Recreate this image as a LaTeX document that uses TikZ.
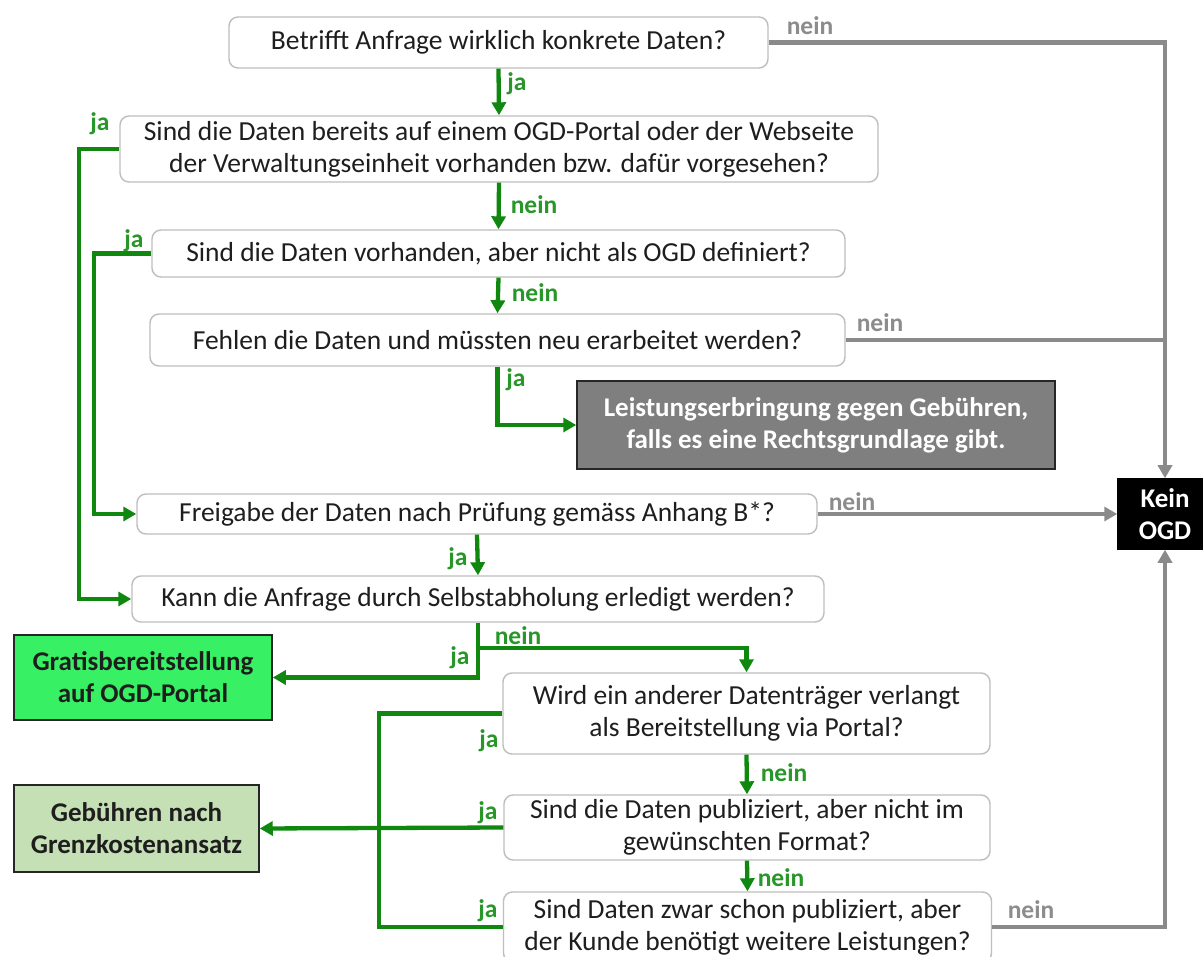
\documentclass[tikz,border=0pt]{standalone}
\usepackage{fontspec}
\setmainfont{Carlito}
\usetikzlibrary{arrows.meta}
\definecolor{qborder}{RGB}{190,190,190}
\definecolor{textc}{RGB}{30,30,30}
\definecolor{gline}{RGB}{16,136,16}
\definecolor{glabel}{RGB}{40,150,40}
\definecolor{grayline}{RGB}{138,138,138}
\definecolor{graylabel}{RGB}{140,140,140}
\definecolor{gratis}{RGB}{55,240,100}
\definecolor{gebuehr}{RGB}{197,224,180}
\definecolor{leist}{RGB}{127,127,127}
\tikzset{
  q/.style={draw=qborder, line width=1.4pt, rounded corners=9pt, fill=white, align=center,
    inner sep=0pt, text=textc, font=\fontsize{27.5}{32}\selectfont},
  res/.style={draw=black!85, line width=1.5pt, align=center, inner sep=0pt,
    font=\bfseries\fontsize{27}{32}\selectfont},
  gpath/.style={draw=gline, line width=4.3pt},
  garrow/.style={gpath, -{Triangle[length=13pt,width=14pt]}},
  ypath/.style={draw=grayline, line width=4.3pt},
  yarrow/.style={ypath, -{Triangle[length=13pt,width=14pt]}},
  glbl/.style={text=glabel, font=\bfseries\fontsize{25.5}{28}\selectfont, inner sep=0pt},
  ylbl/.style={text=graylabel, font=\bfseries\fontsize{25.5}{28}\selectfont, inner sep=0pt}
}
\begin{document}
\begin{tikzpicture}[x=1pt,y=-1pt]
\useasboundingbox (0,0) rectangle (1203,957);
\fill[white] (0,0) rectangle (1203,957);

% question boxes
\node[q, minimum width=539pt, minimum height=51pt] (b1) at (498.5,42.5) {Betrifft Anfrage wirklich konkrete Daten?};
\node[q, minimum width=758pt, minimum height=66pt] (b2) at (499,149) {Sind die Daten bereits auf einem OGD-Portal oder der Webseite\\der Verwaltungseinheit vorhanden bzw. dafür vorgesehen?};
\node[q, minimum width=693pt, minimum height=47pt] (b3) at (498.5,253.5) {Sind die Daten vorhanden, aber nicht als OGD definiert?};
\node[q, minimum width=695pt, minimum height=52pt] (b4) at (497.5,340) {Fehlen die Daten und müssten neu erarbeitet werden?};
\node[q, minimum width=680pt, minimum height=40pt] (b5) at (477,514) {Freigabe der Daten nach Prüfung gemäss Anhang B*?};
\node[q, minimum width=692pt, minimum height=46pt] (b6) at (478,599) {Kann die Anfrage durch Selbstabholung erledigt werden?};
\node[q, minimum width=487pt, minimum height=81pt] (b7) at (746.5,713.5) {Wird ein anderer Datenträger verlangt\\als Bereitstellung via Portal?};
\node[q, minimum width=486pt, minimum height=65pt] (b8) at (747,827.5) {Sind die Daten publiziert, aber nicht im\\gewünschten Format?};
\node[q, minimum width=488pt, minimum height=70pt] (b9) at (747.5,927) {Sind Daten zwar schon publiziert, aber\\der Kunde benötigt weitere Leistungen?};

% result boxes
\node[res, fill=leist, text=white, minimum width=478pt, minimum height=88pt] (lg) at (816,425) {Leistungserbringung gegen Gebühren,\\falls es eine Rechtsgrundlage gibt.};
\node[res, fill=gratis, text=textc, minimum width=258pt, minimum height=85pt] (gr) at (143,677.5) {Gratisbereitstellung\\auf OGD-Portal};
\node[res, fill=gebuehr, text=textc, minimum width=245pt, minimum height=87pt] (gk) at (136.5,828.5) {Gebühren nach\\Grenzkostenansatz};
\node[res, draw=black, fill=black, text=white, minimum width=94pt, minimum height=70pt] (ko) at (1165,514) {Kein\\OGD};

% gray connectors
\draw[yarrow] (b1.east) -| (ko.north);
\draw[ypath] (b4.east) -- (ko.north |- b4.east);
\draw[yarrow] (b5.east) -- (ko.west);
\draw[yarrow] (b9.east) -| (ko.south);

% green connectors
\draw[garrow] (b1.south) -- (b2.north);
\draw[garrow] (b2.south) -- (b3.north);
\draw[garrow] (b3.south) -- (b4.north);
\draw[garrow] (b2.west) -- ++(-40,0) |- (b6.west);
\draw[garrow] (b3.west) -- ++(-57,0) |- (b5.west);
\draw[garrow] (b4.south) |- (lg.west);
\draw[garrow] (b5.south) -- (b6.north);
\draw[garrow] (b6.south) |- (gr.east);
\coordinate (br) at ([yshift=-25pt]b6.south);
\draw[garrow] (br) -| (b7.north);
\draw[gpath] (b7.west) -- ++(-123,0) |- (b9.west);
\draw[garrow] (b8.west) -- (gk.east);
\draw[garrow] (b7.south) -- (b8.north);
\draw[garrow] (b8.south) -- (b9.north);

% labels
\node[ylbl] (l1) at (810,26) {nein};
\node[glbl] (l2) at (517,84) {ja};
\node[glbl] (l3) at (100,124) {ja};
\node[glbl] (l4) at (534,205) {nein};
\node[glbl] (l5) at (134,241) {ja};
\node[glbl] (l6) at (535,293) {nein};
\node[ylbl] (l7) at (880,323) {nein};
\node[glbl] (l8) at (516,380) {ja};
\node[ylbl] (l9) at (852,502) {nein};
\node[glbl] (l10) at (458,559) {ja};
\node[glbl] (l11) at (518,636) {nein};
\node[glbl] (l12) at (460,658) {ja};
\node[glbl] (l13) at (489,741) {ja};
\node[glbl] (l14) at (488,813) {ja};
\node[glbl] (l15) at (488,911) {ja};
\node[glbl] (l16) at (784,773) {nein};
\node[glbl] (l17) at (781,878) {nein};
\node[ylbl] (l18) at (1031,910) {nein};
\end{tikzpicture}
\end{document}
